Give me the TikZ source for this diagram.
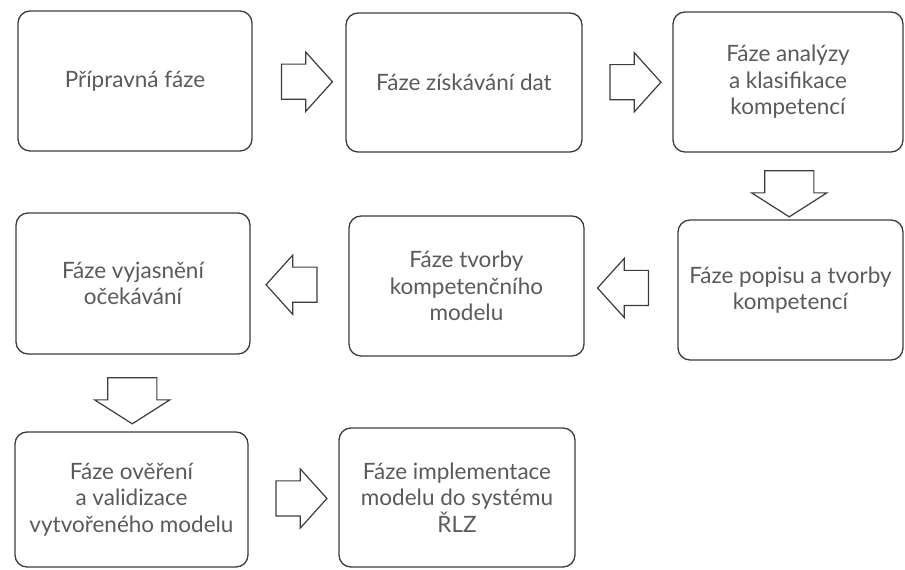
\documentclass[tikz,border=0pt]{standalone}
\usepackage{fontspec}
\setmainfont{Lato}
\usetikzlibrary{shapes.arrows,calc}

\definecolor{linka}{HTML}{3C3C3C}
\definecolor{pismo}{HTML}{5A5A5A}

\tikzset{
	faze/.style={draw=linka, line width=1.3pt, rounded corners=12pt, minimum width=234pt, minimum height=140pt, inner sep=0pt, align=center, text=pismo, font=\fontsize{22.5}{26.5}\selectfont},
	sipka/.style={single arrow, draw=linka, line width=1.2pt, fill=white, minimum height=51pt, inner xsep=0pt, inner ysep=17pt, single arrow head extend=12pt, single arrow tip angle=96},
	sipkadolu/.style={single arrow, draw=linka, line width=1.2pt, fill=white, minimum height=46pt, inner xsep=0pt, inner ysep=24pt, single arrow head extend=13pt, single arrow tip angle=115, rotate=-90}
}

\begin{document}
\begin{tikzpicture}[x=1pt, y=1pt]
		
		\useasboundingbox (0,0) rectangle (905,570);
		
		% První řada
		\node[faze] (priprava) at (135,489) {Přípravná fáze};
		\node[faze, minimum width=236pt, minimum height=139pt] (ziskani) at (464,487.5) {Fáze získávání dat};
		\node[faze, minimum width=230pt] (analyza) at (788,488) {Fáze analýzy\\a klasifikace\\kompetencí};
		
		% Druhá řada
		\node[faze, minimum height=141pt] (vyjasneni) at (133,286.5) {Fáze vyjasnění\\očekávání};
		\node[faze, minimum width=235pt] (tvorba) at (466.5,284) {Fáze tvorby\\kompetenčního\\modelu};
		\node[faze, minimum width=225pt] (popis) at (790.5,280) {Fáze popisu a tvorby\\kompetencí};
		
		% Třetí řada
		\node[faze, minimum width=233pt, minimum height=135pt] (overeni) at (131.5,70.5) {Fáze ověření\\a validizace\\vytvořeného modelu};
		\node[faze, minimum width=236pt, minimum height=139pt] (implementace) at (457,72.5) {Fáze implementace\\modelu do systému\\ŘLZ};
		
		% Šipky
		\node[sipka] (s1) at ($(priprava.east)!0.5!(ziskani.west)$) {};
		\node[sipka] (s2) at ($(ziskani.east)!0.5!(analyza.west)$) {};
		\node[sipkadolu] (s3) at ($(analyza.south)!0.5!(popis.north)$) {};
		\node[sipka, rotate=180] (s4) at ($(popis.west)!0.5!(tvorba.east)$) {};
		\node[sipka, rotate=180] (s5) at ($(tvorba.west)!0.5!(vyjasneni.east)$) {};
		\node[sipkadolu] (s6) at ($(vyjasneni.south)!0.5!(overeni.north)$) {};
		\node[sipka] (s7) at ($(overeni.east)!0.5!(implementace.west)$) {};
		
	\end{tikzpicture}
\end{document}
